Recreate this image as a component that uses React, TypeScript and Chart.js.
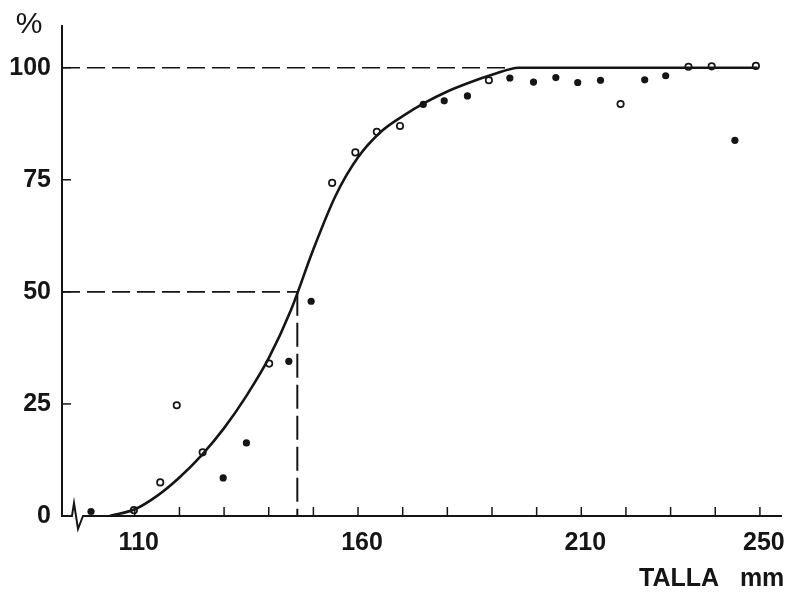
import React, { useEffect, useRef } from "react";
import { Chart, registerables } from "chart.js";

Chart.register(...registerables);

// Axis ranges
const X_MIN = 93.7;
const X_MAX = 254.8;
const Y_MIN = 0;
const Y_MAX = 109.3;

// Tick labels
const X_TICK_LABELS = [110, 160, 210, 250];
const X_MINOR_TICKS = [110, 120, 130, 140, 150, 160, 170, 180, 190, 200, 210, 220, 230, 240, 250];
const Y_TICK_LABELS = [0, 25, 50, 75, 100];
const Y_MINOR_TICKS = [25, 50, 75, 100];

// Axis texts
const Y_UNIT = "%";
const X_TITLE = "TALLA   mm";

// Reference values
const L50_X = 146.4;
const HALF_Y = 50;
const FULL_X = 194.3;
const FULL_Y = 100;

// Observed points (open circles)
const openX = [109.8, 115.7, 119.4, 125.2, 140.1, 154.2, 159.4, 164.2, 169.4, 189.3, 218.8, 234.0, 239.2, 249.1];
const openY = [1.3, 7.5, 24.7, 14.2, 34.0, 74.3, 81.1, 85.7, 87.0, 97.2, 91.9, 100.2, 100.3, 100.4];

// Observed points (filled dots)
const filledX = [100.2, 129.8, 135.0, 144.5, 149.5, 174.6, 179.3, 184.5, 194.0, 199.3, 204.3, 209.2, 214.3, 224.2, 228.9, 244.4];
const filledY = [1.0, 8.5, 16.3, 34.5, 47.9, 91.8, 92.6, 93.7, 97.7, 96.8, 97.8, 96.7, 97.2, 97.3, 98.2, 83.8];

// Fitted curve
const curveX = [104.4, 110, 115, 120, 125, 130, 135, 140, 145, 150, 155, 160, 165, 170, 175, 180, 185, 190, 196, 249.5];
const curveY = [0, 1.5, 4.5, 8.6, 13.6, 19.6, 26.8, 35.2, 46.0, 59.5, 71.5, 80.0, 85.6, 89.2, 92.2, 94.7, 96.7, 98.4, 100, 100];

const INK = "#151515";
const FONT_FAMILY = "'Liberation Sans', Arial, Helvetica, sans-serif";

const zip = (xs: number[], ys: number[]) => xs.map((x, i) => ({ x, y: ys[i] }));

const decorPlugin = {
  id: "decor",
  afterDraw(chart: any) {
    const { ctx, chartArea, scales } = chart;
    const { left, right, bottom, top } = chartArea;
    const x = scales.x;
    const y = scales.y;
    ctx.save();
    ctx.strokeStyle = INK;
    ctx.lineWidth = 1.5;
    X_MINOR_TICKS.forEach((v) => {
      const px = x.getPixelForValue(v);
      ctx.beginPath();
      ctx.moveTo(px, bottom);
      ctx.lineTo(px, bottom - 9);
      ctx.stroke();
    });
    Y_MINOR_TICKS.forEach((v) => {
      const py = y.getPixelForValue(v);
      ctx.beginPath();
      ctx.moveTo(left, py);
      ctx.lineTo(left + 9, py);
      ctx.stroke();
    });
    // axis break zigzag
    ctx.fillStyle = "#fff";
    ctx.fillRect(left + 8, bottom - 3, 16, 6);
    ctx.lineWidth = 2;
    ctx.lineJoin = "miter";
    ctx.beginPath();
    ctx.moveTo(left + 6, bottom);
    ctx.lineTo(left + 10, bottom);
    ctx.lineTo(left + 12, bottom - 13);
    ctx.lineTo(left + 16, bottom + 13);
    ctx.lineTo(left + 21, bottom);
    ctx.lineTo(left + 26, bottom);
    ctx.stroke();
    // percent sign
    ctx.fillStyle = INK;
    ctx.font = `30px ${FONT_FAMILY}`;
    ctx.textAlign = "center";
    ctx.textBaseline = "middle";
    ctx.fillText(Y_UNIT, left - 33, top - 1);
    // x-axis title
    ctx.font = `bold 25px ${FONT_FAMILY}`;
    ctx.textAlign = "right";
    ctx.textBaseline = "middle";
    ctx.fillText(X_TITLE, right + 3, bottom + 63);
    ctx.restore();
  },
};

export default function App() {
  const canvasRef = useRef<HTMLCanvasElement | null>(null);

  useEffect(() => {
    document.body.style.margin = "0";
    const canvas = canvasRef.current;
    if (!canvas) return;
    const dashed = {
      type: "line" as const,
      borderColor: INK,
      borderWidth: 1.6,
      borderDash: [18, 7],
      pointRadius: 0,
      fill: false,
      clip: false as any,
    };
    const chart = new Chart(canvas, {
      type: "line",
      data: {
        datasets: [
          {
            ...dashed,
            data: [
              { x: X_MIN, y: FULL_Y },
              { x: FULL_X, y: FULL_Y },
            ],
          },
          {
            ...dashed,
            data: [
              { x: X_MIN, y: HALF_Y },
              { x: L50_X, y: HALF_Y },
            ],
          },
          {
            ...dashed,
            borderWidth: 2,
            borderDash: [24, 7],
            data: [
              { x: L50_X, y: HALF_Y },
              { x: L50_X, y: Y_MIN },
            ],
          },
          {
            type: "line",
            data: zip(curveX, curveY),
            borderColor: INK,
            borderWidth: 2.6,
            pointRadius: 0,
            cubicInterpolationMode: "monotone",
            fill: false,
            clip: false as any,
          },
          {
            type: "line",
            data: zip(openX, openY),
            showLine: false,
            pointRadius: 3.2,
            pointBorderWidth: 1.7,
            pointBackgroundColor: "#fff",
            pointBorderColor: INK,
            clip: false as any,
          },
          {
            type: "line",
            data: zip(filledX, filledY),
            showLine: false,
            pointRadius: 3.6,
            pointBorderWidth: 0,
            pointBackgroundColor: INK,
            pointBorderColor: INK,
            clip: false as any,
          },
        ],
      },
      options: {
        animation: false,
        responsive: false,
        maintainAspectRatio: false,
        layout: { padding: { top: 23, right: 8, left: 0, bottom: 0 } },
        plugins: {
          legend: { display: false },
          tooltip: { enabled: false },
          title: { display: false },
        },
        scales: {
          x: {
            type: "linear",
            min: X_MIN,
            max: X_MAX,
            grid: { display: false, drawTicks: false },
            border: { display: true, color: INK, width: 2 },
            afterBuildTicks: (s: any) => {
              s.ticks = X_TICK_LABELS.map((v) => ({ value: v }));
            },
            afterFit: (s: any) => {
              s.height = 80;
            },
            ticks: {
              color: INK,
              padding: 12,
              labelOffset: 4,
              maxRotation: 0,
              autoSkip: false,
              font: { family: FONT_FAMILY, size: 25, weight: "bold" },
              callback: (v: any) => String(v),
            },
          },
          y: {
            type: "linear",
            min: Y_MIN,
            max: Y_MAX,
            grid: { display: false, drawTicks: false },
            border: { display: true, color: INK, width: 2 },
            afterBuildTicks: (s: any) => {
              s.ticks = Y_TICK_LABELS.map((v) => ({ value: v }));
            },
            afterFit: (s: any) => {
              s.width = 62;
            },
            ticks: {
              color: INK,
              padding: 11,
              autoSkip: false,
              font: { family: FONT_FAMILY, size: 25, weight: "bold" },
              callback: (v: any) => String(v),
            },
          },
        },
      },
      plugins: [decorPlugin],
    } as any);
    return () => chart.destroy();
  }, []);

  return (
    <div style={{ position: "absolute", left: 0, top: 0, width: 793, height: 596, background: "#fff" }}>
      <canvas ref={canvasRef} width={793} height={596} />
    </div>
  );
}
